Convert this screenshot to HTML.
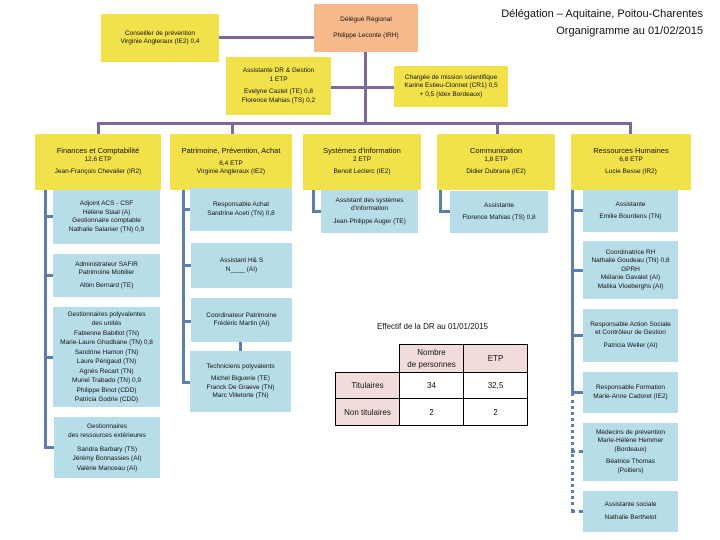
<!DOCTYPE html>
<html><head><meta charset="utf-8"><style>
*{margin:0;padding:0;box-sizing:border-box}
body{width:720px;height:540px;background:#fff;position:relative;overflow:hidden;font-family:"Liberation Sans Narrow","Liberation Sans",sans-serif;color:#111}
.b{position:absolute;display:flex;flex-direction:column;justify-content:center;align-items:center;text-align:center;font-size:6.5px;line-height:8.5px}
.y{background:#f1e14b}
.l{background:#b7dde8}
.p{background:#f6b98c}
.h{position:absolute;background:#7d6a9c}
.s{position:absolute;background:#5b7fae}
.g{height:4px}
.t{font-size:7.5px}
table{position:absolute;border-collapse:collapse;font-size:8px;font-family:"Liberation Sans",sans-serif}
td{border:1px solid #000;text-align:center;vertical-align:middle}
</style></head><body>
<div style="position:absolute;right:17px;top:6px;text-align:right;font-size:11px;line-height:17px;font-family:'Liberation Sans Narrow','Liberation Sans',sans-serif">Délégation – Aquitaine, Poitou-Charentes<br>Organigramme au 01/02/2015</div>

<!-- top lines -->
<div class="h" style="left:219px;top:36px;width:95px;height:3px"></div>
<div class="h" style="left:364px;top:52px;width:3px;height:72px"></div>
<div class="h" style="left:331px;top:86px;width:63px;height:3px"></div>
<div class="h" style="left:97px;top:122px;width:534px;height:3px"></div>
<div class="h" style="left:97px;top:122px;width:3px;height:12px"></div>
<div class="h" style="left:231px;top:122px;width:3px;height:12px"></div>
<div class="h" style="left:496px;top:122px;width:3px;height:12px"></div>
<div class="h" style="left:629px;top:122px;width:3px;height:12px"></div>

<div class="b p" style="left:314px;top:4px;width:104px;height:48px">Délégué Régional<div class="g"></div><div class="g"></div>Philippe Leconte (IRH)</div>
<div class="b y" style="left:101px;top:14px;width:118px;height:48px">Conseiller de prévention<br>Virginie Angleraux (IE2) 0,4</div>
<div class="b y" style="left:226px;top:57px;width:105px;height:58px">Assistante DR &amp; Gestion<br>1 ETP<div class="g"></div>Evelyne Castet (TE) 0,8<br>Florence Mahias (TS) 0,2</div>
<div class="b y" style="left:394px;top:66px;width:114px;height:41px">Chargée de mission scientifique<br>Karine Estieu-Clonnet (CR1) 0,5<br>+ 0,5 (Idex Bordeaux)</div>

<!-- top row -->
<div class="b y" style="left:35px;top:134px;width:126px;height:56px"><span class="t">Finances et Comptabilité</span>12,6 ETP<div class="g"></div>Jean-François Chevalier (IR2)</div>
<div class="b y" style="left:170px;top:134px;width:122px;height:56px"><span class="t">Patrimoine, Prévention, Achat</span><div class="g"></div>6,4 ETP<br>Virginie Angleraux (IE2)</div>
<div class="b y" style="left:303px;top:134px;width:118px;height:56px"><span class="t">Systèmes d'information</span>2 ETP<div class="g"></div>Benoit Leclerc (IE2)</div>
<div class="b y" style="left:437px;top:134px;width:118px;height:56px"><span class="t">Communication</span>1,8 ETP<div class="g"></div>Didier Dubrana (IE2)</div>
<div class="b y" style="left:571px;top:134px;width:120px;height:56px"><span class="t">Ressources Humaines</span>6,8 ETP<div class="g"></div>Lucie Besse (IR2)</div>

<!-- sub lines -->
<div class="s" style="left:44px;top:190px;width:3px;height:258px"></div>
<div class="s" style="left:44px;top:215px;width:10px;height:3px"></div>
<div class="s" style="left:44px;top:274px;width:10px;height:3px"></div>
<div class="s" style="left:44px;top:356px;width:10px;height:3px"></div>
<div class="s" style="left:44px;top:446px;width:10px;height:3px"></div>

<div class="s" style="left:182px;top:190px;width:3px;height:193px"></div>
<div class="s" style="left:182px;top:208px;width:9px;height:3px"></div>
<div class="s" style="left:182px;top:264px;width:9px;height:3px"></div>
<div class="s" style="left:182px;top:320px;width:9px;height:3px"></div>
<div class="s" style="left:182px;top:381px;width:9px;height:3px"></div>
<div class="s" style="left:239px;top:342px;width:3px;height:10px"></div>

<div class="s" style="left:312px;top:190px;width:3px;height:22px"></div>
<div class="s" style="left:312px;top:210px;width:10px;height:3px"></div>
<div class="s" style="left:439px;top:190px;width:3px;height:22px"></div>
<div class="s" style="left:439px;top:210px;width:11px;height:3px"></div>

<div class="s" style="left:571px;top:190px;width:3px;height:203px"></div>
<div class="s" style="left:571px;top:209px;width:12px;height:3px"></div>
<div class="s" style="left:571px;top:269px;width:12px;height:3px"></div>
<div class="s" style="left:571px;top:334px;width:12px;height:3px"></div>
<div class="s" style="left:571px;top:391px;width:12px;height:3px"></div>
<div style="position:absolute;left:571px;top:393px;width:0;height:119px;border-left:3px dotted #5b7fae"></div>
<div style="position:absolute;left:571px;top:450px;width:12px;height:0;border-top:3px dotted #5b7fae"></div>
<div style="position:absolute;left:571px;top:510px;width:12px;height:0;border-top:3px dotted #5b7fae"></div>

<!-- finances -->
<div class="b l" style="left:53px;top:190px;width:107px;height:54px">Adjoint ACS - CSF<br>Hélène Staal (A)<br>Gestionnaire comptable<br>Nathalie Salanier (TN) 0,9</div>
<div class="b l" style="left:53px;top:254px;width:107px;height:43px">Administrateur SAFIR<br>Patrimoine Mobilier<div class="g"></div>Albin Bernard (TE)</div>
<div class="b l" style="left:53px;top:307px;width:107px;height:100px;line-height:9.5px">Gestionnaires polyvalentes<br>des unités<br>Fabienne Babillot (TN)<br>Marie-Laure Ghodbane (TN) 0,8<br>Sandrine Hamon (TN)<br>Laure Périgaud (TN)<br>Agnès Recart (TN)<br>Muriel Trabado (TN) 0,9<br>Philippe Binot (CDD)<br>Patricia Godrie (CDD)</div>
<div class="b l" style="left:54px;top:417px;width:106px;height:61px;line-height:9.5px">Gestionnaires<br>des ressources extérieures<div class="g"></div>Sandra Barbary (TS)<br>Jérémy Bonnassies (AI)<br>Valérie Manceau (AI)</div>

<!-- patrimoine -->
<div class="b l" style="left:190px;top:188px;width:102px;height:43px">Responsable Achat<br>Sandrine Aceti (TN) 0,8</div>
<div class="b l" style="left:191px;top:243px;width:101px;height:45px">Assistant H&amp; S<br>N____ (AI)</div>
<div class="b l" style="left:191px;top:298px;width:101px;height:44px">Coordinateur Patrimoine<br>Frédéric Martin (AI)</div>
<div class="b l" style="left:190px;top:351px;width:101px;height:61px">Techniciens polyvalents<div class="g"></div>Michel Biguerie (TE)<br>Franck De Graeve (TN)<br>Marc Villetorte (TN)</div>

<div class="b l" style="left:321px;top:190px;width:97px;height:43px">Assistant des systèmes<br>d'information<div class="g"></div>Jean-Philippe Auger (TE)</div>
<div class="b l" style="left:450px;top:191px;width:98px;height:42px">Assistante<div class="g"></div>Florence Mahias (TS) 0,8</div>

<!-- RH -->
<div class="b l" style="left:583px;top:190px;width:95px;height:42px">Assistante<div class="g"></div>Emilie Bourdens (TN)</div>
<div class="b l" style="left:583px;top:241px;width:95px;height:58px">Coordinatrice RH<br>Nathalie Goudeau (TN) 0,8<br>GPRH<br>Mélanie Gavalet (AI)<br>Malika Vloeberghs (AI)</div>
<div class="b l" style="left:583px;top:309px;width:95px;height:53px">Responsable Action Sociale<br>et Contrôleur de Gestion<div class="g"></div>Patricia Weller (AI)</div>
<div class="b l" style="left:583px;top:372px;width:95px;height:41px">Responsable Formation<br>Marie-Anne Cadoret (IE2)</div>
<div class="b l" style="left:583px;top:423px;width:95px;height:58px">Médecins de prévention<br>Marie-Hélène Hemmer<br>(Bordeaux)<div class="g"></div>Béatrice Thomas<br>(Poitiers)</div>
<div class="b l" style="left:583px;top:491px;width:95px;height:41px">Assistante sociale<div class="g"></div>Nathalie Berthelot</div>

<!-- table -->
<div style="position:absolute;left:360px;top:322px;width:145px;text-align:center;font-size:8px;font-family:'Liberation Sans',sans-serif">Effectif de la DR au 01/01/2015</div>
<table style="left:335px;top:344px">
<tr style="height:28px"><td style="width:64px;border:none;border-right:1px solid #000;border-bottom:1px solid #000"></td><td style="width:64px;background:#f2dcdb;line-height:12px">Nombre<br>de personnes</td><td style="width:64px;background:#f2dcdb">ETP</td></tr>
<tr style="height:26px"><td style="background:#f2dcdb">Titulaires</td><td>34</td><td>32,5</td></tr>
<tr style="height:27px"><td style="background:#f2dcdb">Non titulaires</td><td>2</td><td>2</td></tr>
</table>
</body></html>
